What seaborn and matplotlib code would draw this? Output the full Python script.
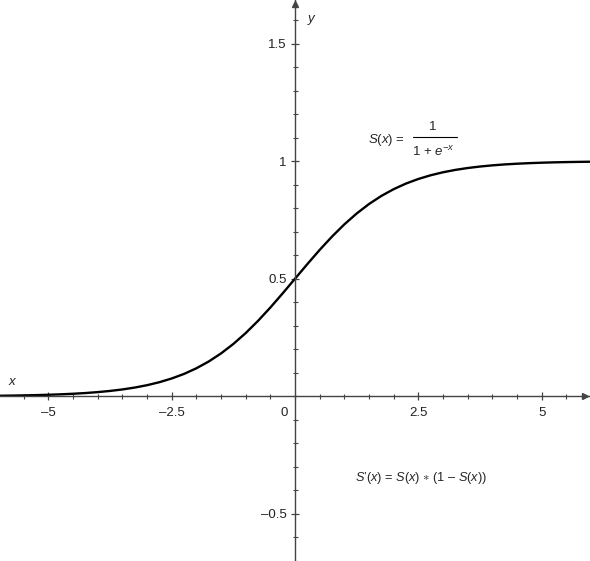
import matplotlib
matplotlib.use("Agg")
import matplotlib.pyplot as plt
import seaborn as sns
from matplotlib.ticker import FixedLocator, MultipleLocator, FuncFormatter

# values
x_vals = [-6.0, -5.75, -5.5, -5.25, -5.0, -4.75, -4.5, -4.25, -4.0, -3.75, -3.5, -3.25,
          -3.0, -2.75, -2.5, -2.25, -2.0, -1.75, -1.5, -1.25, -1.0, -0.75, -0.5, -0.25,
          0.0, 0.25, 0.5, 0.75, 1.0, 1.25, 1.5, 1.75, 2.0, 2.25, 2.5, 2.75,
          3.0, 3.25, 3.5, 3.75, 4.0, 4.25, 4.5, 4.75, 5.0, 5.25, 5.5, 5.75, 6.0]
s_vals = [0.0025, 0.0032, 0.0041, 0.0052, 0.0067, 0.0086, 0.0110, 0.0140, 0.0180, 0.0230,
          0.0293, 0.0373, 0.0474, 0.0601, 0.0759, 0.0953, 0.1192, 0.1480, 0.1824, 0.2227,
          0.2689, 0.3208, 0.3775, 0.4378, 0.5000, 0.5622, 0.6225, 0.6792, 0.7311, 0.7773,
          0.8176, 0.8520, 0.8808, 0.9047, 0.9241, 0.9399, 0.9526, 0.9627, 0.9707, 0.9770,
          0.9820, 0.9860, 0.9890, 0.9914, 0.9933, 0.9948, 0.9959, 0.9968, 0.9975]

x_major = [-5, -2.5, 2.5, 5]
y_major = [-0.5, 0.5, 1, 1.5]

sns.set_style("white")
plt.rcParams['font.family'] = ['Liberation Sans', 'DejaVu Sans']
plt.rcParams['mathtext.fontset'] = 'custom'
plt.rcParams['mathtext.rm'] = 'Liberation Sans'
plt.rcParams['mathtext.it'] = 'Liberation Sans:italic'

fig = plt.figure(figsize=(5.9, 5.61), dpi=100)
ax = fig.add_axes([0, 0, 1, 1])
ax.patch.set_alpha(0)

sns.lineplot(x=x_vals, y=s_vals, ax=ax, color='black', linewidth=1.7)

ax.set_xlim(-5.98, 5.98)
ax.set_ylim(-0.70, 1.685)

axis_col = '#444444'
fs = 9.5
for side in ['top', 'right']:
    ax.spines[side].set_visible(False)
ax.spines['bottom'].set_position(('data', 0))
ax.spines['left'].set_position(('data', 0))
for side in ['bottom', 'left']:
    ax.spines[side].set_color(axis_col)
    ax.spines[side].set_linewidth(1.0)

dash = FuncFormatter(lambda v, p: ('%g' % v).replace('-', '\u2013'))
ax.xaxis.set_major_locator(FixedLocator(x_major))
ax.xaxis.set_minor_locator(MultipleLocator(0.5))
ax.yaxis.set_major_locator(FixedLocator(y_major))
ax.yaxis.set_minor_locator(MultipleLocator(0.1))
ax.xaxis.set_major_formatter(dash)
ax.yaxis.set_major_formatter(dash)

ax.tick_params(which='both', bottom=True, left=True, top=False, right=False)
ax.tick_params(which='major', direction='inout', length=5.8, width=0.9, color=axis_col,
               labelsize=fs, labelcolor='#222222')
ax.tick_params(which='minor', direction='inout', length=3.6, width=0.8, color=axis_col)
ax.tick_params(axis='x', which='major', pad=4.5)
ax.tick_params(axis='y', which='major', pad=3.2)

# arrow heads
ax.plot(0.992, 0, '>', color=axis_col, markersize=5, transform=ax.get_yaxis_transform(),
        clip_on=False)
ax.plot(0, 0.992, '^', color=axis_col, markersize=5, transform=ax.get_xaxis_transform(),
        clip_on=False)

# axis names and origin
ax.text(-5.75, 0.06, 'x', style='italic', fontsize=fs, ha='center', va='center')
ax.text(0.33, 1.605, 'y', style='italic', fontsize=fs, ha='center', va='center')
ax.text(-0.22, -0.072, '0', fontsize=fs, ha='center', va='center', color='#222222')

# formulas
ax.text(1.48, 1.09, r'$S(x)$ =', fontsize=fs, ha='left', va='center')
ax.text(2.80, 1.145, '1', fontsize=fs, ha='center', va='center')
ax.plot([2.39, 3.29], [1.102, 1.102], color='black', linewidth=0.8)
ax.text(2.80, 1.04, r'1 + $e^{-x}$', fontsize=fs, ha='center', va='center')
deriv = "$S$\u2019$(x)$ = $S(x)$ $\\ast$ (1 \u2013 $S(x)$)"
ax.text(1.22, -0.349, deriv, fontsize=9.2, ha='left', va='center')

fig.savefig('out.png', dpi=100)
